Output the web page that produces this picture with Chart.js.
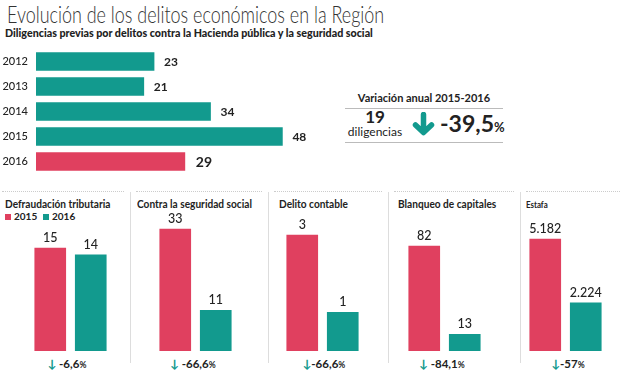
<!DOCTYPE html>
<html><head><meta charset="utf-8">
<script src="https://cdn.jsdelivr.net/npm/chart.js@4.4.0/dist/chart.umd.min.js"></script>
<style>
html,body{margin:0;padding:0;background:#fff;}
body{width:624px;height:385px;position:relative;overflow:hidden;font-family:Lato,"Open Sans",sans-serif;color:#222;}
.abs{position:absolute;white-space:nowrap;}
canvas{position:absolute;}
#title{left:7px;top:0px;font-size:23px;font-weight:300;color:#333;transform:scaleX(0.78);transform-origin:0 0;}
#sub{left:5px;top:26px;font-size:11.5px;font-weight:900;color:#222;transform:scaleX(0.93);transform-origin:0 0;}
.ptitle{font-size:11.5px;font-weight:700;top:197px;transform:scaleX(0.88);transform-origin:0 0;}
.sep{position:absolute;width:1px;background:#ddd;top:192px;height:171px;}
.dots{position:absolute;top:191px;height:0;border-top:1px dotted #ccc;}
.pct{top:357px;font-size:11.5px;font-weight:700;transform:translateX(-50%);}
.pct .ar{color:#129a8e;font-weight:900;}
.pct small{font-size:8.5px;}
.hl{position:absolute;left:345px;width:158px;height:0;border-top:1px solid #bbb;}
</style></head>
<body>
<div class="abs" id="title">Evolución de los delitos económicos en la Región</div>
<div class="abs" id="sub">Diligencias previas por delitos contra la Hacienda pública y la seguridad social</div>

<canvas id="top" width="344" height="125" style="left:0;top:49px"></canvas>

<div class="abs" style="left:345px;top:91px;width:158px;text-align:center;font-size:11px;font-weight:700;">Variación anual 2015-2016</div>
<div class="hl" style="top:108px"></div>
<div class="hl" style="top:142px"></div>
<div class="abs" style="left:345px;top:108px;width:60px;text-align:center;font-size:17px;font-weight:700;line-height:18px;">19</div>
<div class="abs" style="left:345px;top:125px;width:60px;text-align:center;font-size:12px;line-height:14px;">diligencias</div>
<svg class="abs" style="left:412px;top:112px" width="23" height="24" viewBox="0 0 23 24">
  <path d="M11.5 2.5 V20 M3.5 13 L11.5 20.5 L19.5 13" fill="none" stroke="#129a8e" stroke-width="5.5" stroke-linecap="round" stroke-linejoin="round"/>
</svg>
<div class="abs" style="left:440px;top:110px;font-size:23px;font-weight:700;line-height:26px;">-39,5<span style="font-size:13px">%</span></div>

<div class="dots" style="left:2px;width:122px"></div>
<div class="dots" style="left:136px;width:126px"></div>
<div class="dots" style="left:274px;width:108px"></div>
<div class="dots" style="left:394px;width:120px"></div>
<div class="dots" style="left:526px;width:94px"></div>
<div class="sep" style="left:130px"></div>
<div class="sep" style="left:268px"></div>
<div class="sep" style="left:388px"></div>
<div class="sep" style="left:520px"></div>

<div class="abs ptitle" style="left:5px">Defraudación tributaria</div>
<div class="abs ptitle" style="left:137px">Contra la seguridad social</div>
<div class="abs ptitle" style="left:279px">Delito contable</div>
<div class="abs ptitle" style="left:398px">Blanqueo de capitales</div>
<div class="abs ptitle" style="left:526px;font-size:9px;top:199px">Estafa</div>

<div class="abs" style="left:5px;top:214px;width:6px;height:6px;background:#e0405f"></div>
<div class="abs" style="left:14px;top:210px;font-size:10px;font-weight:700;">2015</div>
<div class="abs" style="left:43px;top:214px;width:6px;height:6px;background:#129a8e"></div>
<div class="abs" style="left:52px;top:210px;font-size:10px;font-weight:700;">2016</div>

<canvas id="p0" width="81" height="156" style="left:30px;top:195px"></canvas>
<canvas id="p1" width="81" height="156" style="left:155px;top:195px"></canvas>
<canvas id="p2" width="81" height="156" style="left:282px;top:195px"></canvas>
<canvas id="p3" width="81" height="156" style="left:404px;top:195px"></canvas>
<canvas id="p4" width="81" height="156" style="left:525px;top:195px"></canvas>

<div class="abs pct" style="left:67px"><span class="ar">&#8595;</span> -6,6<small>%</small></div>
<div class="abs pct" style="left:193px"><span class="ar">&#8595;</span> -66,6<small>%</small></div>
<div class="abs pct" style="left:324px"><span class="ar">&#8595;</span>-66,6<small>%</small></div>
<div class="abs pct" style="left:442px"><span class="ar">&#8595;</span> -84,1<small>%</small></div>
<div class="abs pct" style="left:568px"><span class="ar">&#8595;</span>-57<small>%</small></div>

<script>
// ---- data ----
const years = ['2012','2013','2014','2015','2016'];
const diligencias = [23, 21, 34, 48, 29];
const panelTitles = ['Defraudación tributaria','Contra la seguridad social','Delito contable','Blanqueo de capitales','Estafa'];
const compareYears = ['2015','2016'];
const values2015 = [15, 33, 3, 82, 5182];
const values2016 = [14, 11, 1, 13, 2224];
const variations = ['-6,6%','-66,6%','-66,6%','-84,1%','-57%'];

const RED = '#e0405f', TEAL = '#129a8e';
const FONT = 'Lato, "Open Sans", sans-serif';
function fmt(n){ return String(n).replace(/\B(?=(\d{3})+(?!\d))/g,'.'); }

const hLabels = {
  id:'hLabels',
  afterDatasetsDraw(chart){
    const ctx = chart.ctx; const meta = chart.getDatasetMeta(0);
    const yScale = chart.scales.y;
    ctx.save();
    meta.data.forEach((el,i)=>{
      const last = i === meta.data.length-1;
      ctx.font = (last ? '700 14px ' : '700 12px ') + FONT;
      ctx.fillStyle = '#222'; ctx.textAlign='left'; ctx.textBaseline='middle';
      ctx.fillText(fmt(chart.data.datasets[0].data[i]), el.x + (last?11:10), el.y+1);
      // category (year) labels, positioned by the category scale
      ctx.font = '500 11px ' + FONT; ctx.textAlign='right';
      ctx.fillText(chart.data.labels[i], chart.chartArea.left - 8, yScale.getPixelForTick(i));
    });
    ctx.restore();
  }
};
const vLabels = {
  id:'vLabels',
  afterDatasetsDraw(chart){
    const ctx = chart.ctx; const meta = chart.getDatasetMeta(0);
    ctx.save();
    meta.data.forEach((el,i)=>{
      ctx.font = '500 12.5px ' + FONT;
      ctx.fillStyle = '#222'; ctx.textAlign='center'; ctx.textBaseline='bottom';
      ctx.fillText(fmt(chart.data.datasets[0].data[i]), el.x, el.y - 4);
    });
    ctx.restore();
  }
};

new Chart(document.getElementById('top'), {
  type:'bar',
  data:{ labels: years, datasets:[{ data: diligencias,
    backgroundColor: years.map((y,i)=> i===years.length-1 ? RED : TEAL),
    barThickness: 18 }]},
  options:{
    indexAxis:'y', responsive:false, animation:false, devicePixelRatio:1,
    layout:{padding:{left:36,right:0,top:0,bottom:0}},
    plugins:{legend:{display:false}, tooltip:{enabled:false}},
    scales:{
      x:{display:false, min:0, max:60},
      y:{display:false}
    }
  },
  plugins:[hLabels]
});

const maxes = [19.8, 36.8, 3.52, 106.2, 6293];
for (let p=0; p<5; p++){
  new Chart(document.getElementById('p'+p), {
    type:'bar',
    data:{ labels: compareYears, datasets:[{ data:[values2015[p], values2016[p]],
      backgroundColor:[RED, TEAL], barThickness:31 }]},
    options:{
      responsive:false, animation:false, devicePixelRatio:1,
      layout:{padding:{top:20,left:0,right:0,bottom:0}},
      plugins:{legend:{display:false}, tooltip:{enabled:false}},
      scales:{ x:{display:false}, y:{display:false, min:0, max:maxes[p]} }
    },
    plugins:[vLabels]
  });
}
</script>
</body></html>
